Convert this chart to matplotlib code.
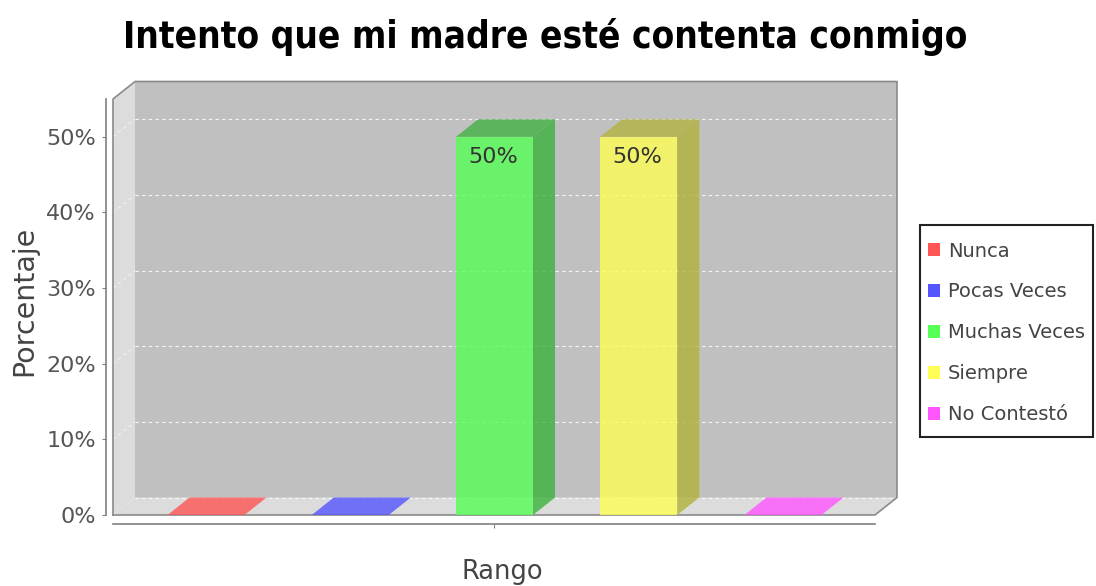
import matplotlib
matplotlib.use("Agg")
import matplotlib.pyplot as plt
from matplotlib.patches import Polygon, Patch, Rectangle
from matplotlib.ticker import FuncFormatter

# ---- data ----
title = "Intento que mi madre esté contenta conmigo"
categories = ["Nunca", "Pocas Veces", "Muchas Veces", "Siempre", "No Contestó"]
values = [0, 0, 50, 50, 0]
colors = ["#FF5555", "#5555FF", "#55FF55", "#FFFF55", "#FF55FF"]
dark_colors = ["#B23B3B", "#3B3BB2", "#3BB23B", "#B2B23B", "#B23BB2"]
yticks = [0, 10, 20, 30, 40, 50]
ylabel = "Porcentaje"
xlabel = "Rango"

W, H = 1096, 586
PT = 72.0 / 100.0  # points per pixel
fig = plt.figure(figsize=(W / 100, H / 100), dpi=100)
fig.patch.set_facecolor("white")

# front face of the plot area
ax = fig.add_axes([113 / W, (H - 515) / H, 762 / W, 416 / H])
xmin, xmax = -0.645, 4.638
ymin, ymax = 0, 55
ax.set_xlim(xmin, xmax)
ax.set_ylim(ymin, ymax)
ax.patch.set_visible(False)

# 3D depth in data units, derived from axis scale
px_x = (xmax - xmin) / 762.0
px_y = (ymax - ymin) / 416.0
dx = 22 * px_x
dy = 17.5 * px_y

wall = "#C0C0C0"
side = "#DCDCDC"
edge = "#8A8A8A"

# back wall, left wall, floor
ax.add_patch(Polygon([(xmin + dx, dy), (xmax + dx, dy), (xmax + dx, ymax + dy), (xmin + dx, ymax + dy)],
                     closed=True, facecolor=wall, edgecolor="none", clip_on=False, zorder=0))
ax.add_patch(Polygon([(xmin, 0), (xmin + dx, dy), (xmin + dx, ymax + dy), (xmin, ymax)],
                     closed=True, facecolor=side, edgecolor="none", clip_on=False, zorder=0))
ax.add_patch(Polygon([(xmin, 0), (xmax, 0), (xmax + dx, dy), (xmin + dx, dy)],
                     closed=True, facecolor=side, edgecolor="none", clip_on=False, zorder=0))

# gridlines
for v in yticks:
    ax.plot([xmin + dx, xmax + dx], [v + dy, v + dy], color="white", lw=0.8, ls=(0, (3, 3)),
            clip_on=False, zorder=1, alpha=0.85)
    if v > 0:
        ax.plot([xmin, xmin + dx], [v, v + dy], color="white", lw=0.8, ls=(0, (3, 3)),
                clip_on=False, zorder=1, alpha=0.6)

# outline
ax.plot([xmin, xmin, xmin + dx, xmax + dx, xmax + dx, xmax, xmin],
        [0, ymax, ymax + dy, ymax + dy, dy, 0, 0], color=edge, lw=1.2, clip_on=False, zorder=2)

# bars
bw = 0.534
for i, (v, c, dc) in enumerate(zip(values, colors, dark_colors)):
    x0, x1 = i - bw / 2, i + bw / 2
    if v > 0:
        ax.add_patch(Polygon([(x0, 0), (x1, 0), (x1, v), (x0, v)], closed=True,
                             facecolor=c, alpha=0.8, edgecolor="none", clip_on=False, zorder=3))
        ax.add_patch(Polygon([(x1, 0), (x1 + dx, dy), (x1 + dx, v + dy), (x1, v)], closed=True,
                             facecolor=dc, alpha=0.8, edgecolor="none", clip_on=False, zorder=3))
        ax.add_patch(Polygon([(x0, v), (x1, v), (x1 + dx, v + dy), (x0 + dx, v + dy)], closed=True,
                             facecolor=dc, alpha=0.75, edgecolor="none", clip_on=False, zorder=3))
        ax.annotate(f"{v:.0f}%", xy=(i, v), xytext=(-1, -7.5), textcoords="offset points",
                    ha="center", va="top", fontsize=16, color="#333333", zorder=4)
    else:
        ax.add_patch(Polygon([(x0, v), (x1, v), (x1 + dx, v + dy), (x0 + dx, v + dy)], closed=True,
                             facecolor=c, alpha=0.8, edgecolor="none", clip_on=False, zorder=3))

# axes
for s in ["top", "right"]:
    ax.spines[s].set_visible(False)
ax.spines["left"].set_position(("outward", 7 * PT))
ax.spines["left"].set_color("#808080")
ax.spines["left"].set_linewidth(1.2)
ax.spines["bottom"].set_position(("outward", 9 * PT))
ax.spines["bottom"].set_color("#808080")
ax.spines["bottom"].set_linewidth(1.2)
ax.set_yticks(yticks)
ax.yaxis.set_major_formatter(FuncFormatter(lambda v, p: f"{v:.0f}%"))
ax.tick_params(axis="y", direction="out", length=4 * PT, color="#808080", labelsize=16,
               labelcolor="#555555", pad=6 * PT)
ax.set_xticks([(xmin + xmax) / 2])
ax.set_xticklabels([""])
ax.tick_params(axis="x", direction="out", length=4 * PT, color="#808080")

fig.text(545 / W, 1 - 37 / H, title, ha="center", va="center", fontsize=26.5,
         fontweight="bold", fontstretch="condensed", color="black", family="DejaVu Sans")
fig.text(24 / W, 1 - 301 / H, ylabel, ha="center", va="center", rotation=90,
         fontsize=20.5, color="#444444")
fig.text(502 / W, 1 - 572 / H, xlabel, ha="center", va="center", fontsize=18.5, color="#444444")

# legend box and entries
fig.patches.append(Rectangle((920 / W, 1 - 437 / H), 173 / W, 212 / H, transform=fig.transFigure,
                             facecolor="white", edgecolor="#222222", linewidth=1.5, zorder=1))
handles = [Patch(facecolor=c, edgecolor="none") for c in colors]
leg = fig.legend(handles, categories, loc="upper left", bbox_to_anchor=(928 / W, 1 - 241.5 / H),
                 borderaxespad=0, borderpad=0, fontsize=14, frameon=False,
                 handlelength=0.62, handleheight=0.62, handletextpad=0.42, labelspacing=1.13,
                 labelcolor="#444444")
leg.set_zorder(3)

fig.savefig("out.png", dpi=100)
